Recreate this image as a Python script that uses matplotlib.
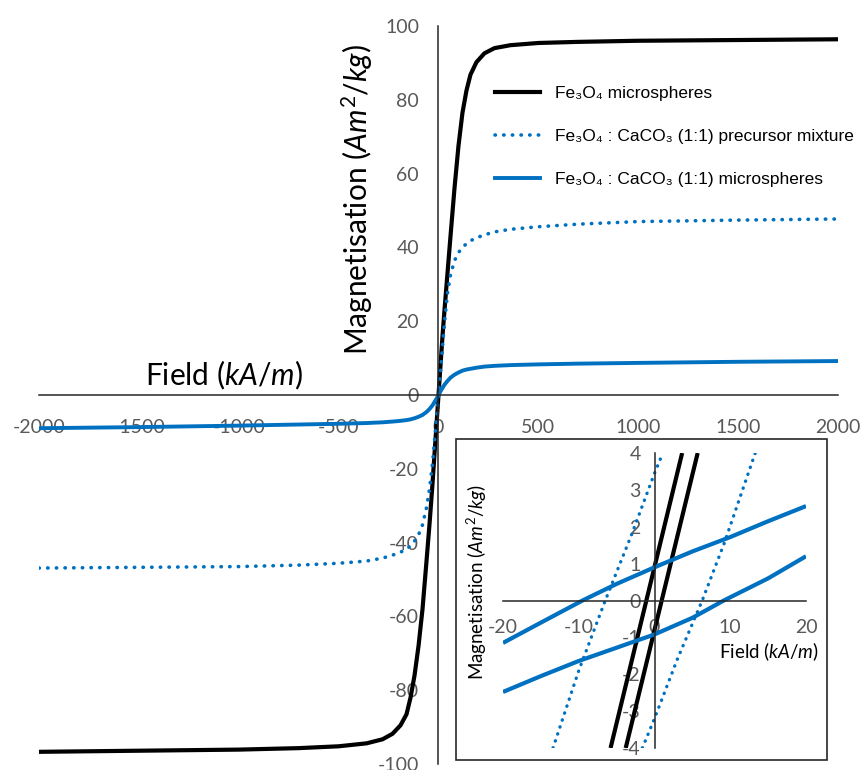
import numpy as np
import matplotlib
matplotlib.use('Agg')
import matplotlib.pyplot as plt
from matplotlib.patches import Rectangle

plt.rcParams['font.family'] = ['Lato', 'DejaVu Sans']
plt.rcParams['mathtext.fontset'] = 'custom'
plt.rcParams['mathtext.rm'] = 'Lato'
plt.rcParams['mathtext.it'] = 'Lato:italic'
plt.rcParams['mathtext.bf'] = 'Lato:bold'
plt.rcParams['axes.unicode_minus'] = False

# main loop data (kA/m, Am2/kg)
field = [-2000, -1500, -1000, -700, -500, -360, -280, -230, -190, -160, -140, -120,
         -100, -80, -60, -45, -30, -20, -10, 0, 10, 20, 30, 45, 60, 80, 100, 120,
         140, 160, 190, 230, 280, 360, 500, 700, 1000, 1500, 2000]
m_fe3o4 = [-96.7, -96.4, -96.1, -95.7, -95.2, -94.4, -93.3, -91.8, -89.5, -86.5, -82.0, -76.0,
           -68.0, -58.0, -45.0, -35.0, -24.0, -16.0, -8.0, 0.0, 8.0, 16.0, 23.0, 33.0, 43.0, 56.0, 67.5, 76.5,
           82.5, 86.8, 90.2, 92.6, 94.0, 94.8, 95.4, 95.7, 96.0, 96.2, 96.4]
m_precursor = [-46.9, -46.7, -46.5, -46.1, -45.6, -45.0, -44.2, -43.4, -42.6, -41.7, -40.9, -39.6,
               -37.9, -35.2, -30.5, -25.5, -18.5, -12.5, -6.3, 0.0, 6.3, 13.0, 19.5, 27.5, 32.5, 36.4, 38.6, 40.0,
               41.0, 41.8, 42.6, 43.4, 44.2, 44.9, 45.6, 46.3, 47.0, 47.4, 47.7]
m_caco3 = [-9.0, -8.7, -8.3, -8.0, -7.8, -7.6, -7.4, -7.2, -7.0, -6.8, -6.6, -6.3,
           -5.9, -5.4, -4.6, -3.8, -2.8, -1.9, -1.0, 0.0, 1.0, 1.9, 2.8, 3.8, 4.7, 5.5, 6.1, 6.6,
           6.9, 7.1, 7.4, 7.7, 7.9, 8.1, 8.3, 8.5, 8.7, 9.0, 9.2]

# inset (low field) branches
ins_fe_a_x = [-5.8, 3.65]
ins_fe_a_y = [-4.0, 4.0]
ins_fe_b_x = [-3.8, 5.7]
ins_fe_b_y = [-4.0, 4.0]
ins_pre_a_x = [-13.4, -10.0, -6.5, -3.0, 0.0, 1.1]
ins_pre_a_y = [-4.0, -1.9, 0.0, 1.8, 3.45, 4.0]
ins_pre_b_x = [-1.6, 0.0, 3.0, 6.3, 9.2, 13.3]
ins_pre_b_y = [-4.0, -3.2, -1.6, 0.0, 1.55, 4.0]
ins_ms_a_x = [-20, -15, -9.5, -5, 0, 5, 10, 15, 20]
ins_ms_a_y = [-1.15, -0.6, 0.0, 0.45, 0.9, 1.33, 1.72, 2.15, 2.56]
ins_ms_b_x = [-20, -15, -10, -5, 0, 5, 9.15, 15, 20]
ins_ms_b_y = [-2.48, -2.05, -1.64, -1.28, -0.92, -0.47, 0.0, 0.6, 1.2]

labels = ['Fe\u2083O\u2084 microspheres',
          'Fe\u2083O\u2084 : CaCO\u2083 (1:1) precursor mixture',
          'Fe\u2083O\u2084 : CaCO\u2083 (1:1) microspheres']

blue = '#0070C0'
axis_col = '#262626'
tick_col = '#595959'
W, H = 862, 770

fig = plt.figure(figsize=(8.62, 7.7), dpi=100)
ax = fig.add_axes([39 / W, 1 - 764 / H, 799 / W, 738 / H])

l1, = ax.plot(field, m_fe3o4, color='black', lw=3.0)
l2, = ax.plot(field, m_precursor, color=blue, lw=2.6, linestyle=(0, (0.1, 2.3)),
              dash_capstyle='round')
l3, = ax.plot(field, m_caco3, color=blue, lw=2.8)

ax.set_xlim(-2000, 2000)
ax.set_ylim(-100, 100)
for s in ['top', 'right']:
    ax.spines[s].set_visible(False)
ax.spines['left'].set_position(('data', 0))
ax.spines['bottom'].set_position(('data', 0))
for s in ['left', 'bottom']:
    ax.spines[s].set_color(axis_col)
    ax.spines[s].set_linewidth(1.1)
ax.set_xticks(np.arange(-2000, 2001, 500))
ax.set_yticks(np.arange(-100, 101, 20))
ax.tick_params(length=0, labelsize=14, labelcolor=tick_col)
ax.tick_params(axis='x', pad=17)
ax.tick_params(axis='y', pad=14)
ax.patch.set_alpha(0)

fig.text(145 / W, 1 - 375 / H, 'Field $(kA/m)$', fontsize=21.5, ha='left', va='center')
fig.text(357 / W, 1 - 200 / H, 'Magnetisation $(Am^{2}/kg)$', fontsize=21.5,
         rotation=90, ha='center', va='center')

ax.legend([l1, l2, l3], labels, loc='upper left', bbox_to_anchor=(495 / W, 1 - 86 / H),
          bbox_transform=fig.transFigure, frameon=False, borderpad=0, borderaxespad=0,
          handlelength=2.6, handletextpad=0.85, labelspacing=1.6,
          prop={'family': ['Liberation Sans', 'DejaVu Sans'], 'size': 12.5})

# inset
box = Rectangle((456 / W, 1 - 760 / H), 371 / W, 321 / H, transform=fig.transFigure,
                facecolor='white', edgecolor='#262626', lw=1.2, zorder=1)
fig.add_artist(box)

axi = fig.add_axes([503 / W, 1 - 748 / H, 303 / W, 295 / H])
axi.set_zorder(2)
axi.patch.set_alpha(0)
axi.plot(ins_fe_a_x, ins_fe_a_y, color='black', lw=3.0, solid_capstyle='butt')
axi.plot(ins_fe_b_x, ins_fe_b_y, color='black', lw=3.0, solid_capstyle='butt')
for xs, ys in [(ins_pre_a_x, ins_pre_a_y), (ins_pre_b_x, ins_pre_b_y)]:
    axi.plot(xs, ys, color=blue, lw=2.4, linestyle=(0, (0.1, 2.1)), dash_capstyle='round')
for xs, ys in [(ins_ms_a_x, ins_ms_a_y), (ins_ms_b_x, ins_ms_b_y)]:
    axi.plot(xs, ys, color=blue, lw=3.0, solid_capstyle='butt')

axi.set_xlim(-20, 20)
axi.set_ylim(-4, 4)
for s in ['top', 'right']:
    axi.spines[s].set_visible(False)
axi.spines['left'].set_position(('data', 0))
axi.spines['bottom'].set_position(('data', 0))
axi.spines['left'].set_bounds(-4, 4)
axi.spines['bottom'].set_bounds(-20, 20)
for s in ['left', 'bottom']:
    axi.spines[s].set_color(axis_col)
    axi.spines[s].set_linewidth(1.1)
axi.set_xticks([-20, -10, 0, 10, 20])
axi.set_yticks(np.arange(-4, 5, 1))
axi.tick_params(length=0, labelsize=14, labelcolor=tick_col)
axi.tick_params(axis='x', pad=13)
axi.tick_params(axis='y', pad=10)

fig.text(477 / W, 1 - 582 / H, 'Magnetisation $(Am^{2}/kg)$', fontsize=13.5,
         rotation=90, ha='center', va='center', zorder=5)
fig.text(719 / W, 1 - 652 / H, 'Field $(kA/m)$', fontsize=13.5, ha='left', va='center',
         zorder=5)

fig.savefig('out.png', dpi=100)
plt.close(fig)
